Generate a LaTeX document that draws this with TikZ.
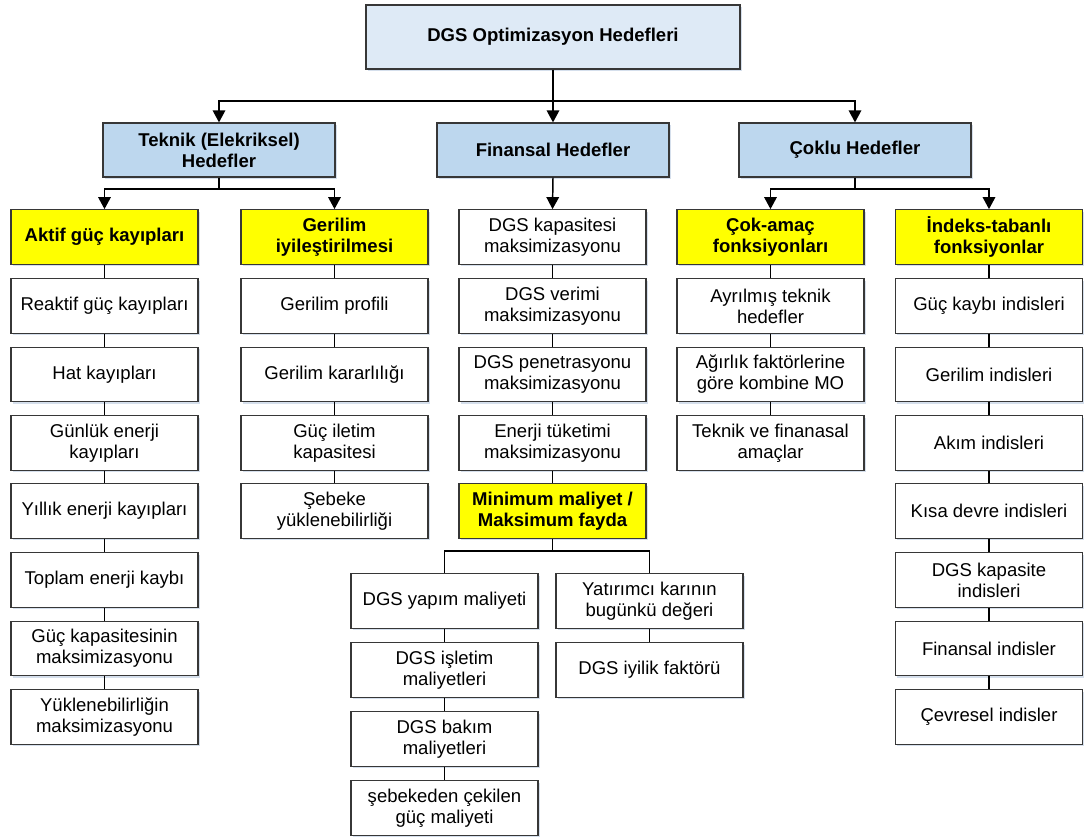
\documentclass[tikz,border=0pt]{standalone}
\usepackage{fontspec}
\setmainfont{Liberation Sans}
\usetikzlibrary{arrows.meta,shadows}

\definecolor{topblue}{RGB}{222,234,246}
\definecolor{midblue}{RGB}{189,215,238}
\definecolor{hiyellow}{RGB}{255,255,0}
\definecolor{edgegray}{RGB}{55,55,55}
\definecolor{shadowblue}{RGB}{196,210,228}

\begin{document}
\begin{tikzpicture}[x=0.75pt,y=-0.75pt,
  every node/.style={font=\fontsize{13.9}{15.8}\selectfont},
  basebox/.style={draw=edgegray, line width=0.9pt, align=center, inner sep=0pt,
    drop shadow={shadow xshift=1.2pt, shadow yshift=-1.6pt, fill=shadowblue, opacity=0.7}},
  itembox/.style={basebox, fill=white, minimum width=140.25pt, minimum height=40.9pt},
  headbox/.style={itembox, fill=hiyellow, font=\fontsize{13.9}{15.8}\selectfont\bfseries},
  groupbox/.style={basebox, fill=midblue, minimum width=174pt, minimum height=40.5pt,
    font=\fontsize{13.9}{15.8}\selectfont\bfseries},
  rootbox/.style={basebox, fill=topblue, minimum width=280.5pt, minimum height=48pt,
    font=\fontsize{13.9}{15.8}\selectfont\bfseries},
  linkline/.style={draw=black, line width=1.1pt},
  arrowline/.style={linkline, -{Triangle[width=9.4pt,length=9pt]}}
]
\useasboundingbox (0,0) rectangle (1086,837);
\fill[white] (0,0) rectangle (1086,837);

% top levels
\node[rootbox] (root) at (553,37) {DGS Optimizasyon Hedefleri};
\node[groupbox] (tek) at (219,150) {Teknik (Elekriksel)\\Hedefler};
\node[groupbox] (fin) at (553,150) {Finansal Hedefler};
\node[groupbox] (cok) at (855,150) {Çoklu Hedefler};

% technical column A
\node[headbox] (aktif) at (104.5,237) {Aktif güç kayıpları};
\node[itembox] (a1) at (104.5,306) {Reaktif güç kayıpları};
\node[itembox] (a2) at (104.5,374.5) {Hat kayıpları};
\node[itembox] (a3) at (104.5,443) {Günlük enerji\\kayıpları};
\node[itembox] (a4) at (104.5,511) {Yıllık enerji kayıpları};
\node[itembox] (a5) at (104.5,580) {Toplam enerji kaybı};
\node[itembox] (a6) at (104.5,648.5) {Güç kapasitesinin\\maksimizasyonu};
\node[itembox] (a7) at (104.5,717) {Yüklenebilirliğin\\maksimizasyonu};

% technical column B
\node[headbox] (geril) at (334.5,237) {Gerilim\\iyileştirilmesi};
\node[itembox] (b1) at (334.5,306) {Gerilim profili};
\node[itembox] (b2) at (334.5,374.5) {Gerilim kararlılığı};
\node[itembox] (b3) at (334.5,443) {Güç iletim\\kapasitesi};
\node[itembox] (b4) at (334.5,511) {Şebeke\\yüklenebilirliği};

% financial column C
\node[itembox] (c1) at (552.5,237) {DGS kapasitesi\\maksimizasyonu};
\node[itembox] (c2) at (552.5,306) {DGS verimi\\maksimizasyonu};
\node[itembox] (c3) at (552.5,374.5) {DGS penetrasyonu\\maksimizasyonu};
\node[itembox] (c4) at (552.5,443) {Enerji tüketimi\\maksimizasyonu};
\node[headbox] (cmin) at (552.5,511) {Minimum maliyet /\\Maksimum fayda};

% cost branch
\node[itembox] (f1) at (444.5,601) {DGS yapım maliyeti};
\node[itembox] (f2) at (444.5,670) {DGS işletim\\maliyetleri};
\node[itembox] (f3) at (444.5,739) {DGS bakım\\maliyetleri};
\node[itembox] (f4) at (444.5,808) {şebekeden çekilen\\güç maliyeti};
\node[itembox] (g1) at (649.5,601) {Yatırımcı karının\\bugünkü değeri};
\node[itembox] (g2) at (649.5,670) {DGS iyilik faktörü};

% multi-objective column D
\node[headbox] (camac) at (770.5,237) {Çok-amaç\\fonksiyonları};
\node[itembox] (d1) at (770.5,306) {Ayrılmış teknik\\hedefler};
\node[itembox] (d2) at (770.5,374.5) {Ağırlık faktörlerine\\göre kombine MO};
\node[itembox] (d3) at (770.5,443) {Teknik ve finanasal\\amaçlar};

% index column E
\node[headbox] (indeks) at (989,237) {İndeks-tabanlı\\fonksiyonlar};
\node[itembox] (e1) at (989,306) {Güç kaybı indisleri};
\node[itembox] (e2) at (989,374.5) {Gerilim indisleri};
\node[itembox] (e3) at (989,443) {Akım indisleri};
\node[itembox] (e4) at (989,511) {Kısa devre indisleri};
\node[itembox] (e5) at (989,580) {DGS kapasite\\indisleri};
\node[itembox] (e6) at (989,648.5) {Finansal indisler};
\node[itembox] (e7) at (989,717) {Çevresel indisler};

% branching connectors
\coordinate (j0) at (553,101);
\coordinate (j1) at (219,189);
\coordinate (j2) at (855,189);
\coordinate (j3) at (552.5,551);

\draw[arrowline] (root.south) -- (fin.north);
\draw[arrowline] (j0) -| (tek.north);
\draw[arrowline] (j0) -| (cok.north);

\draw[linkline] (tek.south) -- (j1);
\draw[arrowline] (j1) -| (aktif.north);
\draw[arrowline] (j1) -| (geril.north);

\draw[arrowline] (fin.south) -- (c1.north);

\draw[linkline] (cok.south) -- (j2);
\draw[arrowline] (j2) -| (camac.north);
\draw[arrowline] (j2) -| (indeks.north);

\draw[linkline] (cmin.south) -- (j3);
\draw[linkline] (j3) -| (f1.north);
\draw[linkline] (j3) -| (g1.north);

% plain links inside the columns
\foreach \u/\v in {aktif/a1,a1/a2,a2/a3,a3/a4,a4/a5,a5/a6,a6/a7,
                   geril/b1,b1/b2,b2/b3,b3/b4,
                   c1/c2,c2/c3,c3/c4,c4/cmin,
                   f1/f2,f2/f3,f3/f4,g1/g2,
                   camac/d1,d1/d2,d2/d3,
                   indeks/e1,e1/e2,e2/e3,e3/e4,e4/e5,e5/e6,e6/e7}
  \draw[linkline] (\u) -- (\v);
\end{tikzpicture}
\end{document}
